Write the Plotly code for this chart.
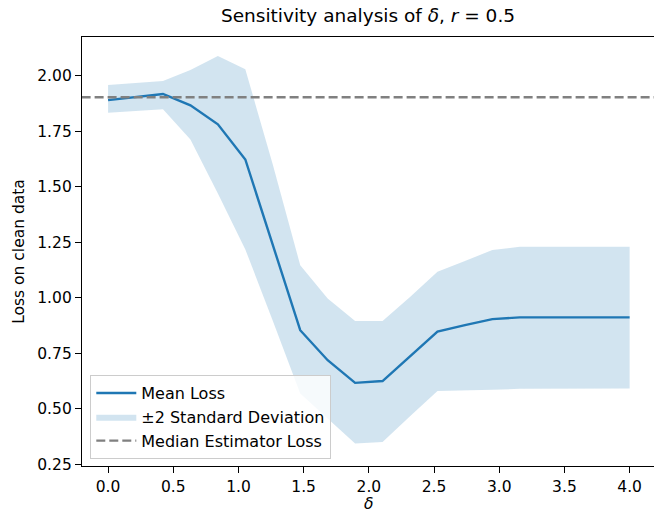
import numpy as np
import plotly.graph_objects as go

# ---- data ----
delta = np.linspace(0, 4, 20)
mean_loss = [1.890, 1.904, 1.918, 1.867, 1.781, 1.623, 1.235, 0.854, 0.719, 0.617,
             0.625, 0.737, 0.848, 0.877, 0.904, 0.912, 0.912, 0.912, 0.912, 0.912]
upper_band = [1.958, 1.967, 1.976, 2.026, 2.089, 2.029, 1.600, 1.147, 0.997, 0.895,
              0.895, 1.004, 1.117, 1.166, 1.215, 1.230, 1.230, 1.230, 1.230, 1.230]
lower_band = [1.833, 1.841, 1.849, 1.713, 1.470, 1.218, 0.897, 0.569, 0.458, 0.344,
              0.351, 0.467, 0.580, 0.583, 0.586, 0.590, 0.591, 0.591, 0.592, 0.592]
median_loss = 1.903
x_ticks = [0.0, 0.5, 1.0, 1.5, 2.0, 2.5, 3.0, 3.5, 4.0]
y_ticks = [0.25, 0.50, 0.75, 1.00, 1.25, 1.50, 1.75, 2.00]

BLUE = "#1f77b4"
FONT = "DejaVu Sans"
FS = 15.5

x_range = [-0.2, 4.187]
y_range = [0.2425, 2.1745]

fig = go.Figure()

# ±2 std band (drawn first, behind the line)
band_x = list(delta) + list(delta[::-1])
band_y = list(upper_band) + list(lower_band[::-1])
fig.add_trace(go.Scatter(
    x=band_x, y=band_y, mode="lines", fill="toself",
    fillcolor="rgba(31,119,180,0.2)", line=dict(width=0, color="rgba(31,119,180,0)"),
    name="±2 Standard Deviation", legendrank=2, legendgroup="b",
))

# mean loss line
fig.add_trace(go.Scatter(
    x=delta, y=mean_loss, mode="lines", name="Mean Loss",
    line=dict(color=BLUE, width=2.4), legendrank=1, legendgroup="a",
))

# median estimator loss (horizontal line across the axes)
fig.add_trace(go.Scatter(
    x=[x_range[0] - 1, x_range[1] + 1], y=[median_loss, median_loss], mode="lines",
    name="Median Estimator Loss", legendrank=3, legendgroup="c",
    line=dict(color="#808080", width=2.4, dash="9px,4px"),
))

fig.update_layout(
    width=654, height=514,
    margin=dict(l=82, r=0, t=37, b=48),
    paper_bgcolor="white", plot_bgcolor="white",
    font=dict(family=FONT, size=FS, color="black"),
    title=dict(
        text="Sensitivity analysis of <i>δ</i>, <i>r</i> = 0.5",
        x=0.5, xref="paper", xanchor="center",
        y=1 - 16 / 514, yref="container", yanchor="middle",
        font=dict(family=FONT, size=18.5, color="black"),
    ),
    legend=dict(
        traceorder="grouped", tracegroupgap=0,
        x=0.0145, y=0.016, xanchor="left", yanchor="bottom",
        bgcolor="rgba(255,255,255,0.8)", bordercolor="#cccccc", borderwidth=1,
        font=dict(family=FONT, size=16, color="black"),
        itemwidth=40,
    ),
    showlegend=True,
    annotations=[dict(
        text="<i>δ</i>", xref="paper", yref="paper", x=0.5, y=-(504 - 466) / 429,
        xanchor="center", yanchor="middle", showarrow=False,
        font=dict(family=FONT, size=FS, color="black"),
    )],
)

fig.update_xaxes(
    range=x_range, tickvals=x_ticks, ticktext=[f"{v:.1f}" for v in x_ticks],
    showgrid=False, zeroline=False,
    showline=True, linecolor="black", linewidth=1.3, mirror=True,
    ticks="outside", ticklen=6, tickwidth=1.3, tickcolor="black",
)
fig.update_yaxes(
    range=y_range, tickvals=y_ticks, ticktext=[f"{v:.2f}" for v in y_ticks],
    showgrid=False, zeroline=False,
    showline=True, linecolor="black", linewidth=1.3, mirror=False,
    ticks="outside", ticklen=6, tickwidth=1.3, tickcolor="black",
    title=dict(text="Loss on clean data", font=dict(family=FONT, size=FS), standoff=8),
)

fig.write_html("out.html")
